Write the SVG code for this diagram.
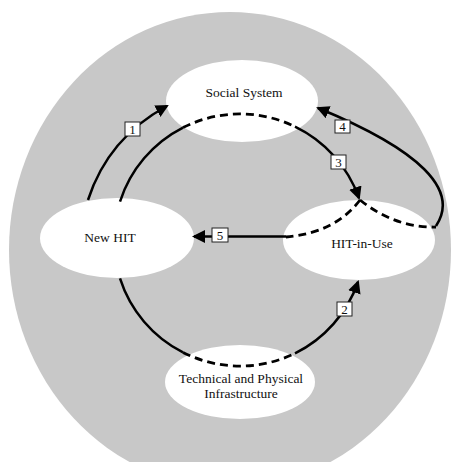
<svg xmlns="http://www.w3.org/2000/svg" width="453" height="462" viewBox="0 0 453 462">
<defs>
<style>
.node{fill:#fff;stroke:none}
.lbl{font-family:"Liberation Serif","DejaVu Serif",serif;font-size:13.5px;fill:#111;text-anchor:middle}
.ln{fill:none;stroke:#000;stroke-width:2.5}
.dash{fill:none;stroke:#000;stroke-width:2.8;stroke-dasharray:8 5}
.box{fill:#fff;stroke:#222;stroke-width:1}
.num{font-family:"Liberation Serif","DejaVu Serif",serif;font-size:13px;fill:#111;text-anchor:middle}
</style>
<marker id="ah" viewBox="0 0 13 13" markerUnits="userSpaceOnUse" markerWidth="13" markerHeight="13" refX="11" refY="6.5" orient="auto">
<path d="M0,0 L13,6.5 L0,13 z" fill="#000"/>
</marker>
</defs>
<rect width="453" height="462" fill="#fff"/>
<ellipse id="background" cx="230" cy="250" rx="221" ry="238" fill="#c8c8c8"/>
<g id="social-system">
<ellipse class="node" cx="242" cy="101" rx="76" ry="41"/>
<text class="lbl" x="244" y="97">Social System</text>
</g>
<g id="new-hit">
<ellipse class="node" cx="117" cy="238" rx="77" ry="40"/>
<text class="lbl" x="110" y="242">New HIT</text>
</g>
<g id="hit-in-use">
<ellipse class="node" cx="359" cy="240" rx="76" ry="40"/>
<text class="lbl" x="362" y="248">HIT-in-Use</text>
</g>
<g id="infrastructure">
<ellipse class="node" cx="240" cy="382" rx="75" ry="37"/>
<text class="lbl" x="241" y="383">Technical and Physical</text>
<text class="lbl" x="241" y="398">Infrastructure</text>
</g>
<g id="connectors">
<path class="ln" d="M88,200 Q108,138 167,106" marker-end="url(#ah)"/>
<path class="ln" d="M120,201.6 A126,126 0 0,1 183,127.6"/>
<path class="dash" d="M183,127.6 A126,126 0 0,1 295,126.6"/>
<path class="ln" d="M295,126.6 A126,126 0 0,1 359,198" marker-end="url(#ah)"/>
<path class="ln" d="M120,278.4 A126,126 0 0,0 183,352.4"/>
<path class="dash" d="M183,352.4 A126,126 0 0,0 295,353.4"/>
<path class="ln" d="M295,353.4 A126,126 0 0,0 358,282" marker-end="url(#ah)"/>
<path class="dash" d="M360,200 Q395,228 436,227"/>
<path class="ln" d="M436,226 C460,190 420,150 318,108" marker-end="url(#ah)"/>
<path class="dash" d="M360,200 Q335,233 286,237"/>
<path class="ln" d="M286,236.5 L194,236.5" marker-end="url(#ah)"/>
</g>
<g id="labels">
<rect class="box" x="125" y="122" width="15" height="14"/><text class="num" x="132.5" y="133.5">1</text>
<rect class="box" x="337" y="302" width="15" height="14"/><text class="num" x="344.5" y="313.5">2</text>
<rect class="box" x="331" y="155" width="15" height="14"/><text class="num" x="338.5" y="166.5">3</text>
<rect class="box" x="335" y="120" width="15" height="13"/><text class="num" x="342.5" y="131">4</text>
<rect class="box" x="212" y="228" width="16" height="14"/><text class="num" x="220" y="239.5">5</text>
</g>
</svg>
